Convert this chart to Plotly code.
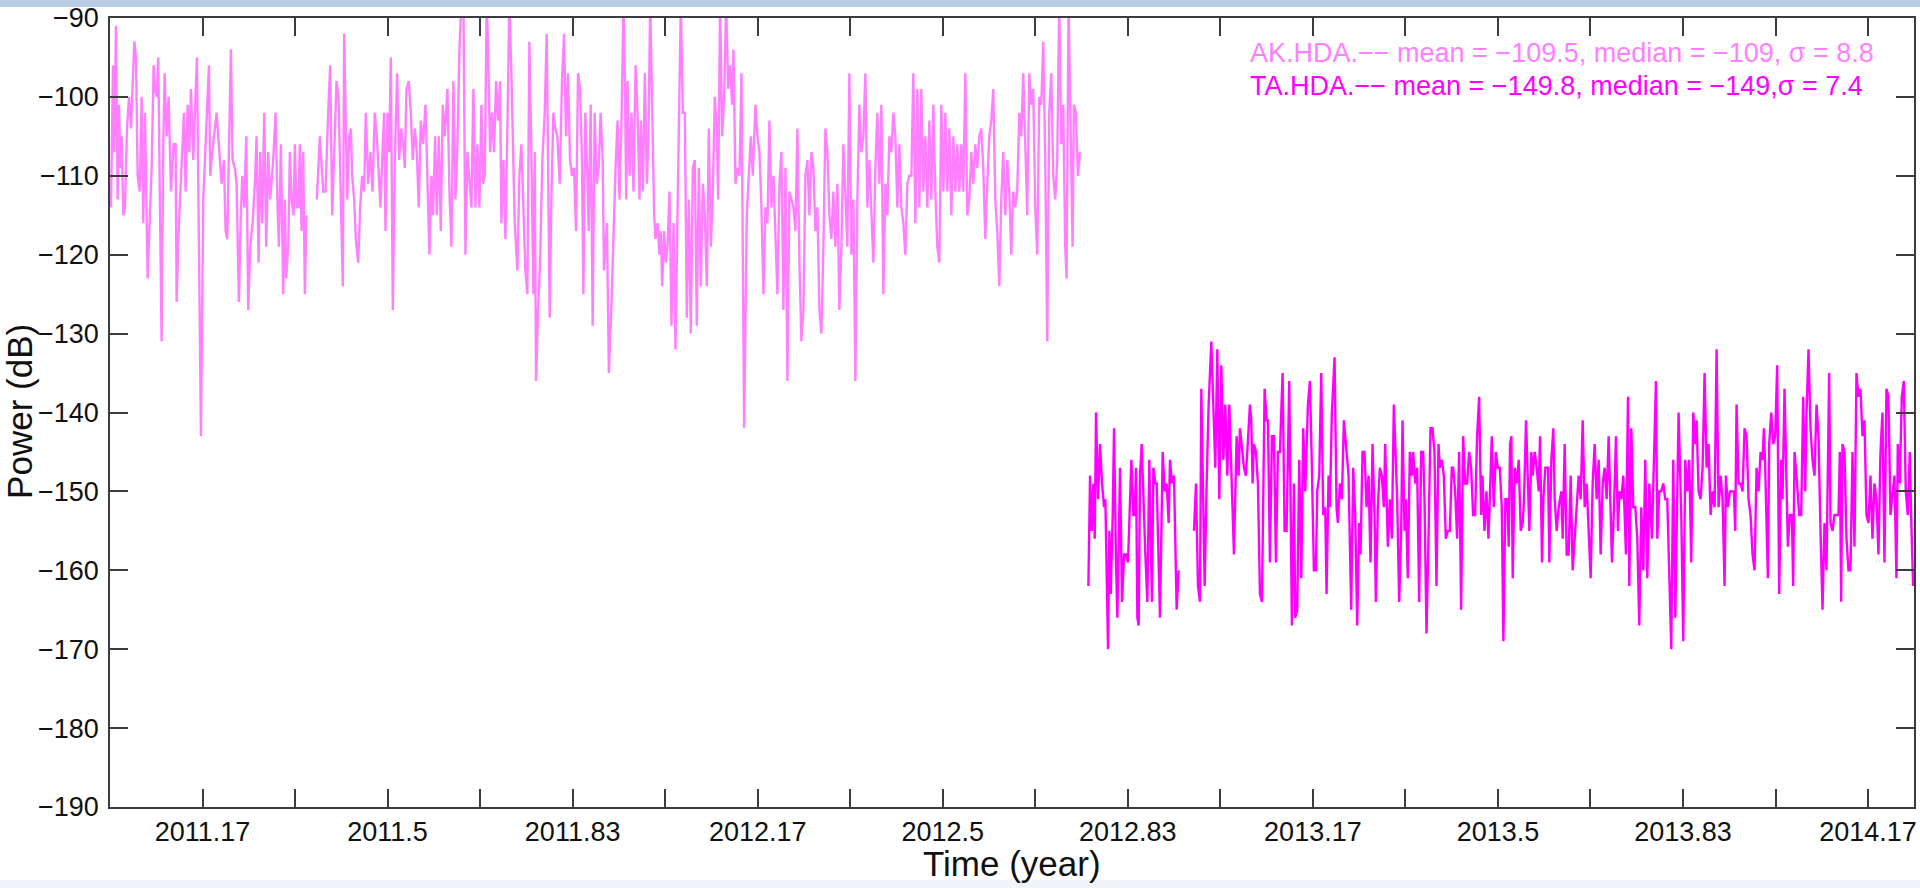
import plotly.graph_objects as go

# Daily noise power (dB) at the two HDA station channels, time in decimal years.
# None marks a gap in the record.
ak_year = [
    2011.0018, 2011.0054, 2011.0078, 2011.0108, 2011.0138, 2011.0162, 2011.0186, 2011.0210, 2011.0240, 2011.0270,
    2011.0306, 2011.0342, 2011.0378, 2011.0438, 2011.0468, 2011.0498, 2011.0534, 2011.0570, 2011.0600, 2011.0630,
    2011.0678, 2011.0720, 2011.0750, 2011.0786, 2011.0810, 2011.0840, 2011.0870, 2011.0900, 2011.0930, 2011.0960,
    2011.0984, 2011.1020, 2011.1056, 2011.1098, 2011.1146, 2011.1182, 2011.1200, 2011.1242, 2011.1290, 2011.1332,
    2011.1362, 2011.1398, 2011.1428, 2011.1458, 2011.1500, 2011.1530, 2011.1566, 2011.1602, 2011.1638, 2011.1680,
    2011.1710, 2011.1746, 2011.1782, 2011.1806, 2011.1842, 2011.1920, 2011.1968, 2011.2010, 2011.2052, 2011.2082,
    2011.2112, 2011.2142, 2011.2178, 2011.2208, 2011.2250, 2011.2280, 2011.2322, 2011.2352, 2011.2382, 2011.2418,
    2011.2454, 2011.2490, 2011.2526, 2011.2568, 2011.2610, 2011.2640, 2011.2676, 2011.2706, 2011.2742, 2011.2778,
    2011.2814, 2011.2850, 2011.2886, 2011.2940, 2011.2982, 2011.3018, 2011.3042, 2011.3078, 2011.3120, 2011.3150,
    2011.3174, 2011.3210, 2011.3240, 2011.3270, 2011.3306, 2011.3330, 2011.3360, 2011.3390, 2011.3420, 2011.3450,
    2011.3480, 2011.3510, 2011.3540, None,
    2011.3726, 2011.3780, 2011.3840, 2011.3882, 2011.3930, 2011.3966, 2011.4002, 2011.4038, 2011.4080, 2011.4116,
    2011.4158, 2011.4194, 2011.4218, 2011.4242, 2011.4272, 2011.4308, 2011.4338, 2011.4362, 2011.4398, 2011.4428,
    2011.4470, 2011.4506, 2011.4542, 2011.4578, 2011.4608, 2011.4650, 2011.4692, 2011.4728, 2011.4770, 2011.4806,
    2011.4842, 2011.4872, 2011.4908, 2011.4938, 2011.4962, 2011.4998, 2011.5028, 2011.5058, 2011.5094, 2011.5130,
    2011.5172, 2011.5208, 2011.5244, 2011.5280, 2011.5310, 2011.5340, 2011.5382, 2011.5418, 2011.5454, 2011.5490,
    2011.5526, 2011.5562, 2011.5598, 2011.5640, 2011.5682, 2011.5718, 2011.5754, 2011.5790, 2011.5820, 2011.5856,
    2011.5886, 2011.5922, 2011.5958, 2011.5994, 2011.6030, 2011.6078, 2011.6114, 2011.6150, 2011.6186, 2011.6222,
    2011.6258, 2011.6294, 2011.6330, 2011.6366, 2011.6402, 2011.6438, 2011.6474, 2011.6510, 2011.6546, 2011.6582,
    2011.6618, 2011.6654, 2011.6690, 2011.6720, 2011.6750, 2011.6786, 2011.6810, 2011.6846, 2011.6882, 2011.6918,
    2011.6954, 2011.6990, 2011.7026, 2011.7050, 2011.7086, 2011.7122, 2011.7158, 2011.7194, 2011.7230, 2011.7260,
    2011.7290, 2011.7338, 2011.7374, 2011.7410, 2011.7446, 2011.7482, 2011.7518, 2011.7554, 2011.7590, 2011.7626,
    2011.7650, 2011.7674, 2011.7710, 2011.7746, 2011.7788, 2011.7830, 2011.7866, 2011.7890, 2011.7920, 2011.7950,
    2011.7986, 2011.8022, 2011.8058, 2011.8100, 2011.8142, 2011.8178, 2011.8214, 2011.8250, 2011.8286, 2011.8322,
    2011.8358, 2011.8394, 2011.8430, 2011.8466, 2011.8502, 2011.8526, 2011.8562, 2011.8598, 2011.8622, 2011.8658,
    2011.8694, 2011.8730, 2011.8766, 2011.8802, 2011.8838, 2011.8874, 2011.8898,
    2011.8950, 2011.8986, 2011.9034, 2011.9070, 2011.9106, 2011.9142, 2011.9178, 2011.9214, 2011.9250, 2011.9274,
    2011.9298, 2011.9322, 2011.9358, 2011.9394, 2011.9430, 2011.9466, 2011.9502, 2011.9538, 2011.9562, 2011.9598,
    2011.9634, 2011.9670, 2011.9700, 2011.9730, 2011.9772, 2011.9802, 2011.9826, 2011.9862, 2011.9898, 2011.9922,
    2011.9946, 2011.9982, 2012.0012, 2012.0042, 2012.0078, 2012.0114, 2012.0150, 2012.0186, 2012.0222, 2012.0258,
    2012.0282, 2012.0318, 2012.0354, 2012.0390, 2012.0426, 2012.0462, 2012.0498, 2012.0534, 2012.0570, 2012.0606,
    2012.0642, 2012.0678, 2012.0714, 2012.0750, 2012.0786, 2012.0822, 2012.0858, 2012.0894, 2012.0930, 2012.0954,
    2012.0990, 2012.1026, 2012.1062, 2012.1098, 2012.1134, 2012.1170, 2012.1206, 2012.1230, 2012.1266, 2012.1302,
    2012.1338, 2012.1374, 2012.1422, 2012.1470, 2012.1506, 2012.1542, 2012.1578, 2012.1626, 2012.1662, 2012.1698,
    2012.1734, 2012.1770, 2012.1806, 2012.1842, 2012.1878, 2012.1914, 2012.1950, 2012.1986, 2012.2022, 2012.2058,
    2012.2094, 2012.2130, 2012.2166, 2012.2202, 2012.2238, 2012.2274, 2012.2310, 2012.2346, 2012.2382, 2012.2418,
    2012.2454, 2012.2490, 2012.2526, 2012.2562, 2012.2598, 2012.2634, 2012.2670, 2012.2706, 2012.2742, 2012.2778,
    2012.2814, 2012.2850, 2012.2886, 2012.2922, 2012.2958, 2012.2994, 2012.3030, 2012.3066, 2012.3102, 2012.3138,
    2012.3174, 2012.3210, 2012.3246, 2012.3282, 2012.3318, 2012.3354, 2012.3390, 2012.3426, 2012.3462, 2012.3498,
    2012.3534, 2012.3570, 2012.3606, 2012.3642, 2012.3678, 2012.3714, 2012.3750, 2012.3786, 2012.3822, 2012.3858,
    2012.3894, 2012.3930, 2012.3966, 2012.4002, 2012.4038, 2012.4074, 2012.4110, 2012.4146, 2012.4182, 2012.4218,
    2012.4254, 2012.4290, 2012.4326, 2012.4362, 2012.4398, 2012.4434, 2012.4470, 2012.4506, 2012.4542, 2012.4578,
    2012.4614, 2012.4650, 2012.4686, 2012.4722, 2012.4758, 2012.4794, 2012.4830, 2012.4866, 2012.4902, 2012.4938,
    2012.4974, 2012.5010, 2012.5046, 2012.5082, 2012.5118, 2012.5154, 2012.5190, 2012.5226, 2012.5262, 2012.5298,
    2012.5334, 2012.5370, 2012.5406, 2012.5442, 2012.5478, 2012.5514, 2012.5550, 2012.5586, 2012.5622, 2012.5658,
    2012.5694, 2012.5730, 2012.5766, 2012.5802, 2012.5838, 2012.5874, 2012.5910, 2012.5946, 2012.5982, 2012.6018,
    2012.6054, 2012.6090, 2012.6126, 2012.6162, 2012.6198, 2012.6234, 2012.6270, 2012.6306, 2012.6342, 2012.6378,
    2012.6414, 2012.6450, 2012.6486, 2012.6522, 2012.6558, 2012.6594, 2012.6630, 2012.6666, 2012.6702, 2012.6738,
    2012.6774, 2012.6810, 2012.6846, 2012.6882, 2012.6918, 2012.6954, 2012.6990, 2012.7026, 2012.7062, 2012.7098,
    2012.7134, 2012.7170, 2012.7206, 2012.7230, 2012.7266, 2012.7302, 2012.7338, 2012.7362, 2012.7398, 2012.7434,
    2012.7470,
]
ak_db = [
    -114, -96, -107, -91, -113, -101, -109, -105, -115, -114,
    -104, -100, -104, -93, -95, -110, -112, -100, -116, -102,
    -123, -114, -109, -96, -99, -100, -95, -114, -131, -106,
    -97, -105, -100, -112, -106, -106, -126, -116, -109, -102,
    -112, -101, -107, -99, -108, -103, -95, -119, -143, -113,
    -108, -102, -96, -110, -107, -102, -107, -111, -108, -117,
    -118, -107, -94, -108, -109, -111, -126, -116, -110, -114,
    -105, -127, -119, -116, -111, -105, -121, -107, -116, -102,
    -119, -107, -113, -108, -102, -114, -119, -106, -125, -113,
    -123, -119, -107, -113, -115, -106, -114, -114, -106, -117,
    -107, -125, -115, None,
    -113, -105, -112, -112, -102, -96, -115, -107, -98, -100,
    -113, -124, -92, -102, -113, -105, -104, -110, -113, -118,
    -121, -114, -110, -112, -102, -111, -107, -112, -102, -105,
    -110, -114, -107, -102, -117, -102, -107, -95, -127, -108,
    -97, -108, -104, -106, -109, -99, -98, -102, -108, -104,
    -107, -114, -103, -106, -101, -112, -120, -110, -115, -105,
    -115, -105, -117, -101, -105, -99, -112, -119, -98, -113,
    -106, -94, -88, -88, -120, -107, -111, -114, -99, -114,
    -106, -114, -101, -111, -110, -88, -94, -107, -102, -107,
    -98, -103, -98, -116, -108, -118, -104, -88, -97, -108,
    -116, -122, -110, -106, -115, -122, -125, -93, -107, -125,
    -107, -136, -127, -121, -108, -102, -92, -108, -128, -113,
    -102, -104, -105, -111, -98, -92, -105, -97, -108, -110,
    -109, -117, -97, -99, -108, -125, -102, -110, -117, -101,
    -129, -102, -111, -109, -102, -108, -122,
    -116, -135, -126, -117, -109, -103, -113, -103, -88, -98,
    -113, -98, -110, -102, -112, -96, -102, -113, -103, -112,
    -97, -111, -105, -88, -102, -115, -118, -116, -120, -117,
    -124, -117, -121, -119, -112, -129, -116, -132, -115, -102,
    -88, -102, -102, -128, -113, -130, -109, -108, -129, -109,
    -124, -111, -115, -124, -104, -119, -112, -100, -104, -113,
    -88, -105, -100, -88, -99, -96, -101, -94, -111, -109,
    -110, -97, -142, -115, -110, -105, -110, -101, -105, -107,
    -114, -125, -114, -116, -103, -114, -110, -119, -125, -111,
    -107, -127, -109, -136, -112, -113, -114, -117, -104, -121,
    -131, -127, -110, -108, -115, -107, -109, -117, -114, -127,
    -130, -119, -104, -107, -115, -118, -112, -119, -111, -127,
    -119, -106, -114, -119, -97, -120, -113, -136, -113, -101,
    -107, -105, -97, -114, -108, -114, -121, -109, -102, -111,
    -101, -125, -111, -115, -105, -107, -102, -105, -114, -106,
    -114, -116, -120, -111, -110, -110, -97, -116, -99, -114,
    -99, -112, -105, -114, -103, -113, -101, -112, -119, -121,
    -101, -112, -102, -112, -104, -115, -105, -112, -106, -112,
    -106, -112, -97, -115, -113, -107, -111, -106, -109, -105,
    -104, -109, -118, -111, -105, -103, -99, -113, -117, -124,
    -113, -107, -115, -108, -112, -120, -112, -114, -112, -102,
    -105, -97, -107, -115, -97, -101, -99, -114, -120, -100,
    -101, -93, -108, -131, -102, -97, -110, -113, -108, -88,
    -106, -101, -119, -123, -88, -107, -119, -101, -102, -110,
    -107,
]

ta_year = [
    2012.7623, 2012.7653, 2012.7683, 2012.7713, 2012.7737, 2012.7761, 2012.7797, 2012.7833, 2012.7869, 2012.7905,
    2012.7929, 2012.7977, 2012.8001, 2012.8025, 2012.8061, 2012.8085, 2012.8121, 2012.8145, 2012.8193, 2012.8229,
    2012.8265, 2012.8301, 2012.8337, 2012.8373, 2012.8397, 2012.8433, 2012.8457, 2012.8481, 2012.8505, 2012.8529,
    2012.8553, 2012.8583, 2012.8613, 2012.8649, 2012.8685, 2012.8721, 2012.8745, 2012.8769, 2012.8793, 2012.8829,
    2012.8853, 2012.8877, 2012.8913, 2012.8961, 2012.8997, 2012.9033, 2012.9069, 2012.9093, 2012.9129, 2012.9165,
    2012.9213, 2012.9249, None,
    2012.9525, 2012.9561, 2012.9597, 2012.9633, 2012.9657, 2012.9693, 2012.9717, 2012.9753, 2012.9789, 2012.9837,
    2012.9873, 2012.9909, 2012.9945, 2012.9981, 2013.0017, 2013.0053, 2013.0089, 2013.0125, 2013.0161, 2013.0197,
    2013.0245, 2013.0293, 2013.0329, 2013.0353, 2013.0389, 2013.0425, 2013.0461, 2013.0497, 2013.0533, 2013.0557,
    2013.0581, 2013.0605, 2013.0641, 2013.0677, 2013.0713, 2013.0749, 2013.0797, 2013.0833, 2013.0857, 2013.0893,
    2013.0929, 2013.0965, 2013.1001, 2013.1037, 2013.1073, 2013.1121, 2013.1157, 2013.1193, 2013.1241, 2013.1289,
    2013.1325, 2013.1349, 2013.1385, 2013.1421, 2013.1457, 2013.1493, 2013.1529, 2013.1577, 2013.1613, 2013.1649,
    2013.1685, 2013.1721, 2013.1745, 2013.1781, 2013.1817, 2013.1853, 2013.1889, 2013.1913, 2013.1949, 2013.1973,
    2013.2009, 2013.2057, 2013.2093, 2013.2117, 2013.2153, 2013.2189, 2013.2225, 2013.2273, 2013.2309, 2013.2357,
    2013.2393, 2013.2429, 2013.2465, 2013.2501, 2013.2525, 2013.2561, 2013.2597, 2013.2633, 2013.2669, 2013.2705,
    2013.2741, 2013.2777, 2013.2801, 2013.2837, 2013.2873, 2013.2909, 2013.2945, 2013.2969, 2013.3017, 2013.3053,
    2013.3089, 2013.3125, 2013.3149, 2013.3185, 2013.3221, 2013.3257, 2013.3281, 2013.3317, 2013.3341, 2013.3377,
    2013.3413, 2013.3449, 2013.3473, 2013.3509, 2013.3545, 2013.3581, 2013.3617, 2013.3653, 2013.3677, 2013.3713,
    2013.3749, 2013.3785, 2013.3821, 2013.3857, 2013.3893, 2013.3929, 2013.3953, 2013.3989, 2013.4025, 2013.4061,
    2013.4097, 2013.4133, 2013.4169, 2013.4193, 2013.4229, 2013.4265, 2013.4301, 2013.4337, 2013.4373, 2013.4409,
    2013.4445, 2013.4481, 2013.4517, 2013.4553, 2013.4589, 2013.4625, 2013.4661, 2013.4697, 2013.4721, 2013.4757,
    2013.4793, 2013.4829, 2013.4853, 2013.4889, 2013.4925, 2013.4961, 2013.4997, 2013.5033, 2013.5069, 2013.5098,
    2013.5134, 2013.5170, 2013.5194, 2013.5218, 2013.5242, 2013.5266, 2013.5302, 2013.5338, 2013.5374, 2013.5410,
    2013.5446, 2013.5470, 2013.5506, 2013.5530, 2013.5566, 2013.5602, 2013.5626, 2013.5662, 2013.5698, 2013.5734,
    2013.5758, 2013.5794, 2013.5818, 2013.5854, 2013.5902, 2013.5926, 2013.5962, 2013.5998, 2013.6022, 2013.6058,
    2013.6094, 2013.6142, 2013.6166, 2013.6202, 2013.6238, 2013.6274, 2013.6310, 2013.6346, 2013.6382, 2013.6418,
    2013.6454, 2013.6490, 2013.6526, 2013.6562, 2013.6598, 2013.6634, 2013.6670, 2013.6706, 2013.6742, 2013.6778,
    2013.6814, 2013.6850, 2013.6886, 2013.6922, 2013.6958, 2013.6994, 2013.7018, 2013.7054, 2013.7090, 2013.7126,
    2013.7162, 2013.7186, 2013.7222, 2013.7258, 2013.7282, 2013.7306, 2013.7342, 2013.7366, 2013.7402, 2013.7438,
    2013.7474, 2013.7510, 2013.7546, 2013.7582, 2013.7618, 2013.7654, 2013.7690, 2013.7726, 2013.7774, 2013.7846,
    2013.7870, 2013.7906, 2013.7942, 2013.7978, 2013.8014, 2013.8050, 2013.8122, 2013.8158, 2013.8194, 2013.8254,
    2013.8302, 2013.8338, 2013.8374, 2013.8410, 2013.8446, 2013.8482, 2013.8518, 2013.8554, 2013.8578, 2013.8614,
    2013.8650, 2013.8686, 2013.8722, 2013.8758, 2013.8794, 2013.8830, 2013.8866, 2013.8902, 2013.8938, 2013.8974,
    2013.9010, 2013.9046, 2013.9082, 2013.9106, 2013.9142, 2013.9178, 2013.9214, 2013.9250, 2013.9274, 2013.9298,
    2013.9334, 2013.9370, 2013.9406, 2013.9442, 2013.9478, 2013.9514, 2013.9550, 2013.9586, 2013.9622, 2013.9658,
    2013.9694, 2013.9730, 2013.9766, 2013.9790, 2013.9814, 2013.9862, 2013.9886, 2013.9922, 2013.9958, 2013.9994,
    2014.0030, 2014.0066, 2014.0102, 2014.0126, 2014.0162, 2014.0198, 2014.0222, 2014.0258, 2014.0294, 2014.0318,
    2014.0342, 2014.0378, 2014.0426, 2014.0462, 2014.0498, 2014.0534, 2014.0558, 2014.0594, 2014.0630, 2014.0666,
    2014.0702, 2014.0738, 2014.0774, 2014.0810, 2014.0846, 2014.0882, 2014.0918, 2014.0966, 2014.0990, 2014.1026,
    2014.1062, 2014.1098, 2014.1134, 2014.1158, 2014.1182, 2014.1206, 2014.1242, 2014.1278, 2014.1314, 2014.1350,
    2014.1386, 2014.1422, 2014.1458, 2014.1494, 2014.1530, 2014.1566, 2014.1602, 2014.1638, 2014.1674, 2014.1710,
    2014.1746, 2014.1782, 2014.1818, 2014.1854, 2014.1890, 2014.1926, 2014.1962, 2014.1998, 2014.2034, 2014.2070,
    2014.2106, 2014.2142, 2014.2178, 2014.2202, 2014.2238, 2014.2274, 2014.2310, 2014.2346, 2014.2382, 2014.2418,
    2014.2442, 2014.2478,
]
ta_db = [
    -162, -148, -155, -149, -156, -140, -151, -144, -149, -152,
    -151, -170, -155, -163, -153, -142, -159, -166, -147, -164,
    -158, -158, -159, -151, -146, -153, -153, -147, -166, -167,
    -148, -144, -151, -158, -164, -146, -156, -164, -147, -149,
    -149, -156, -166, -145, -150, -149, -154, -146, -149, -148,
    -165, -160, None,
    -155, -149, -162, -164, -137, -153, -162, -149, -139, -131,
    -140, -147, -132, -151, -134, -146, -139, -148, -139, -148,
    -158, -143, -148, -142, -145, -147, -148, -143, -139, -141,
    -149, -144, -145, -149, -163, -164, -137, -141, -141, -159,
    -143, -143, -159, -145, -145, -135, -155, -155, -136, -167,
    -149, -166, -165, -146, -161, -142, -150, -139, -136, -147,
    -160, -160, -150, -148, -135, -153, -152, -163, -148, -152,
    -140, -133, -152, -154, -149, -151, -141, -145, -148, -165,
    -147, -153, -167, -154, -158, -145, -145, -152, -148, -159,
    -144, -153, -164, -152, -147, -148, -152, -144, -157, -151,
    -156, -139, -143, -151, -164, -155, -141, -155, -151, -161,
    -145, -148, -145, -149, -147, -164, -145, -145, -151, -168,
    -156, -142, -142, -145, -162, -144, -147, -146, -148, -156,
    -155, -155, -147, -147, -150, -156, -145, -165, -143, -149,
    -149, -145, -147, -153, -153, -143, -138, -153, -148, -155,
    -150, -156, -151, -143, -152, -145, -147, -147, -152, -169,
    -151, -151, -157, -144, -143, -161, -147, -149, -146, -155,
    -154, -151, -141, -147, -155, -145, -148, -145, -147, -150,
    -143, -159, -151, -147, -147, -159, -146, -142, -151, -155,
    -152, -150, -156, -144, -158, -158, -148, -160, -156, -152,
    -148, -151, -141, -152, -149, -155, -161, -149, -144, -151,
    -146, -158, -149, -147, -151, -143, -151, -159, -152, -143,
    -155, -150, -151, -148, -153, -158, -138, -162, -142, -152,
    -152, -156, -167, -152, -160, -146, -161, -149, -156, -136,
    -156, -150, -150, -149, -151, -151, -170, -146, -166, -140,
    -153, -169, -146, -150, -146, -159, -140, -144, -141, -150,
    -151, -147, -135, -147, -144, -153, -150, -152, -132, -152,
    -148, -151, -162, -148, -152, -150, -150, -150, -155, -139,
    -149, -149, -150, -142, -143, -151, -153, -158, -160, -147,
    -150, -145, -146, -142, -147, -161, -144, -140, -144, -143,
    -134, -163, -146, -151, -137, -150, -157, -153, -153, -162,
    -145, -148, -153, -153, -138, -150, -140, -132, -142, -146,
    -148, -139, -143, -155, -165, -154, -160, -135, -154, -155,
    -153, -153, -153, -145, -164, -144, -145, -156, -160, -160,
    -145, -157, -135, -138, -137, -143, -141, -153, -154, -148,
    -156, -149, -151, -158, -145, -140, -159, -137, -138, -153,
    -150, -148, -161, -144, -149, -138, -136, -150, -153, -145,
    -153, -162,
]

# Axis ticks every two months, labelled every four months
x_tick_vals = [2011 + k / 6 for k in range(1, 20)]
x_tick_text = ["2011.17", "", "2011.5", "", "2011.83", "", "2012.17", "", "2012.5", "",
               "2012.83", "", "2013.17", "", "2013.5", "", "2013.83", "", "2014.17"]
y_tick_vals = [-190, -180, -170, -160, -150, -140, -130, -120, -110, -100, -90]

stats_lines = [
    ("AK.HDA.−− mean = −109.5, median = −109, σ = 8.8", "#ff80ff"),
    ("TA.HDA.−− mean = −149.8, median = −149,σ = 7.4", "#ff00ff"),
]

FONT = "Liberation Sans, Arial, Helvetica, sans-serif"
AXIS_COLOR = "#3c3c3c"

fig = go.Figure()
fig.add_trace(go.Scatter(x=ak_year, y=ak_db, mode="lines",
                         line=dict(color="#ff80ff", width=2.4), name="AK.HDA"))
fig.add_trace(go.Scatter(x=ta_year, y=ta_db, mode="lines",
                         line=dict(color="#ff00ff", width=2.4), name="TA.HDA"))

axis_common = dict(
    showline=True, linecolor=AXIS_COLOR, linewidth=1.5, mirror="ticks",
    ticks="inside", ticklen=18, tickwidth=1.5, tickcolor=AXIS_COLOR,
    showgrid=False, zeroline=False,
    tickfont=dict(family=FONT, size=27, color="#111111"),
)

fig.update_xaxes(range=[2011.0, 2014.2494], tickmode="array",
                 tickvals=x_tick_vals, ticktext=x_tick_text, **axis_common)
fig.update_yaxes(range=[-190, -90], tickmode="array", tickvals=y_tick_vals,
                 ticklabelstandoff=4, **axis_common)

annotations = [
    dict(text="Time (year)", x=0.5, y=-0.0715, xref="paper", yref="paper",
         xanchor="center", yanchor="middle", showarrow=False,
         font=dict(family=FONT, size=35, color="#111111")),
    dict(text="Power (dB)", x=-0.0502, y=0.5013, xref="paper", yref="paper",
         xanchor="center", yanchor="middle", textangle=-90, showarrow=False,
         font=dict(family=FONT, size=35, color="#111111")),
]
for i, (txt, col) in enumerate(stats_lines):
    annotations.append(dict(text=txt, x=0.6309, y=0.9558 - i * 0.0415,
                            xref="paper", yref="paper", xanchor="left",
                            yanchor="middle", showarrow=False,
                            font=dict(family=FONT, size=27, color=col)))

# thin window bands along the top and bottom edges of the page
shapes = [
    dict(type="rect", xref="paper", yref="paper", x0=-0.07, x1=1.01,
         y0=1.0139, y1=1.03, fillcolor="#b7cbe5", line=dict(width=0), layer="above"),
    dict(type="rect", xref="paper", yref="paper", x0=-0.07, x1=1.01,
         y0=-0.11, y1=-0.0922, fillcolor="#f1f4f9", line=dict(width=0), layer="above"),
]

fig.update_layout(
    width=1920, height=888,
    margin=dict(l=110, r=3, t=15, b=81),
    paper_bgcolor="white", plot_bgcolor="white",
    showlegend=False,
    annotations=annotations,
    shapes=shapes,
    font=dict(family=FONT),
)

fig.write_html("out.html", include_plotlyjs=True, full_html=True,
               config={"displayModeBar": False})
